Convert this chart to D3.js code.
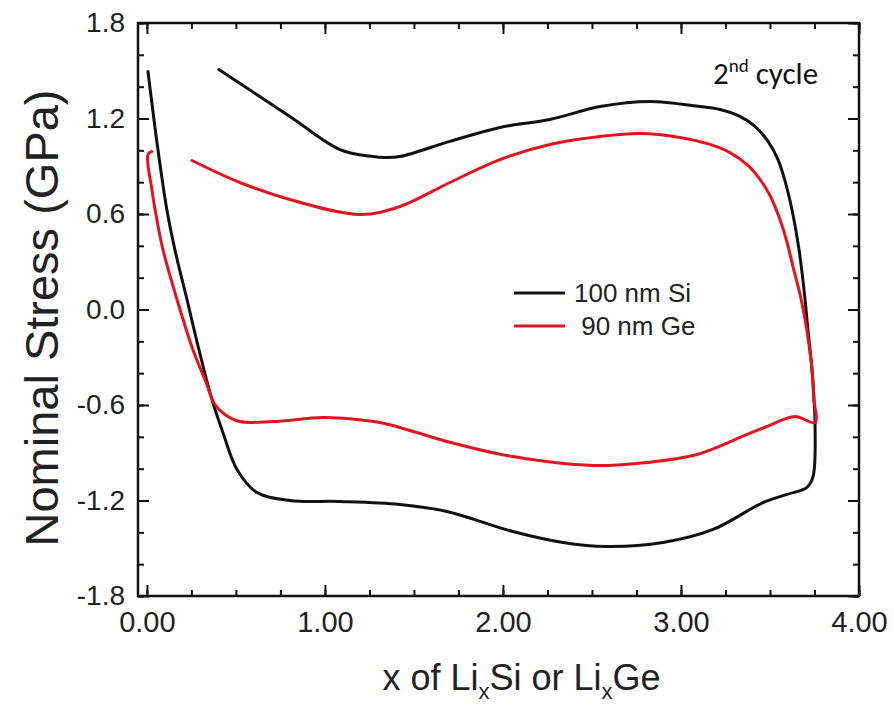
<!DOCTYPE html>
<html>
<head>
<meta charset="utf-8">
<script src="https://cdn.jsdelivr.net/npm/d3@7"></script>
<style>
  html, body { margin: 0; padding: 0; background: #fff; }
  svg { display: block; }
</style>
</head>
<body>
<svg id="chart" width="894" height="714"></svg>
<script>
// Stress vs. lithium content, second cycle: thin-film Si and Ge electrodes.
const siX = [0.006, 0.062, 0.112, 0.157, 0.225, 0.292, 0.365, 0.427, 0.506, 0.618, 0.803, 1.084, 1.421, 1.685, 2.056, 2.337, 2.584, 2.899, 3.180, 3.461, 3.596, 3.708, 3.742, 3.753, 3.747, 3.736, 3.713, 3.691, 3.663, 3.629, 3.590, 3.545, 3.489, 3.416, 3.331, 3.219, 3.107, 2.826, 2.545, 2.264, 1.983, 1.702, 1.421, 1.337, 1.270, 1.084, 0.803, 0.404];
const siY = [1.495, 1.005, 0.628, 0.377, 0.063, -0.251, -0.565, -0.773, -1.005, -1.150, -1.200, -1.206, -1.225, -1.269, -1.395, -1.464, -1.489, -1.464, -1.382, -1.213, -1.162, -1.118, -1.049, -0.710, -0.565, -0.377, -0.126, 0.126, 0.377, 0.597, 0.785, 0.942, 1.056, 1.150, 1.213, 1.257, 1.275, 1.307, 1.275, 1.194, 1.144, 1.056, 0.961, 0.955, 0.961, 1.005, 1.213, 1.508];

const geX = [0.028, 0.006, 0.028, 0.056, 0.090, 0.169, 0.258, 0.326, 0.382, 0.438, 0.522, 0.708, 0.989, 1.180, 1.309, 1.421, 1.685, 2.056, 2.506, 2.809, 3.090, 3.371, 3.483, 3.640, 3.753, 3.747, 3.736, 3.719, 3.697, 3.669, 3.629, 3.596, 3.556, 3.500, 3.444, 3.376, 3.275, 3.163, 2.994, 2.770, 2.545, 2.264, 1.983, 1.702, 1.421, 1.197, 0.803, 0.522, 0.253];
const geY = [0.993, 0.974, 0.754, 0.565, 0.377, 0.063, -0.251, -0.440, -0.597, -0.660, -0.704, -0.704, -0.679, -0.691, -0.710, -0.741, -0.829, -0.924, -0.980, -0.961, -0.911, -0.785, -0.735, -0.672, -0.710, -0.565, -0.377, -0.220, -0.063, 0.094, 0.270, 0.421, 0.565, 0.716, 0.817, 0.905, 0.986, 1.037, 1.081, 1.106, 1.087, 1.037, 0.942, 0.798, 0.647, 0.597, 0.691, 0.798, 0.936];

const seriesNames = ["100 nm Si", " 90 nm Ge"];
const seriesColors = ["#111111", "#e3141f"];

const xMajor = [0, 1, 2, 3, 4];
const xMajorLabels = ["0.00", "1.00", "2.00", "3.00", "4.00"];
const xMinor = d3.range(0, 16.5, 1).map(i => i * 0.25);
const yMajor = [-1.8, -1.2, -0.6, 0, 0.6, 1.2, 1.8];
const yMajorLabels = ["-1.8", "-1.2", "-0.6", "0.0", "0.6", "1.2", "1.8"];
const yMinor = d3.range(-9, 10, 1).map(i => i * 0.2);

const svg = d3.select("#chart");
const plotL = 138, plotR = 859, plotT = 23, plotB = 596;

const x = d3.scaleLinear().domain([-0.05, 4.0]).range([plotL, plotR]);
const y = d3.scaleLinear().domain([-1.8, 1.8]).range([plotB, plotT]);

const font = "'Liberation Sans', Arial, Helvetica, sans-serif";

// Curves
const line = d3.line()
  .x(d => x(d[0]))
  .y(d => y(d[1]))
  .curve(d3.curveCatmullRom.alpha(0.5));

const series = [
  d3.zip(siX, siY),
  d3.zip(geX, geY)
];

svg.append("g").selectAll("path")
  .data(series)
  .join("path")
  .attr("d", line)
  .attr("fill", "none")
  .attr("stroke", (d, i) => seriesColors[i])
  .attr("stroke-width", 3)
  .attr("stroke-linejoin", "round")
  .attr("stroke-linecap", "round");

// Axes with inward ticks on all four sides
function styleAxis(g) {
  g.select(".domain").remove();
  g.selectAll(".tick line").attr("stroke", "#111").attr("stroke-width", 2);
  g.selectAll(".tick text")
    .attr("fill", "#222")
    .style("font-family", font);
}

const fmtX = v => xMajorLabels[xMajor.indexOf(v)];
const fmtY = v => yMajorLabels[yMajor.findIndex(t => Math.abs(t - v) < 1e-9)];

svg.append("g").attr("transform", `translate(0,${plotB})`)
  .call(d3.axisBottom(x).tickValues(xMinor).tickSize(-6).tickFormat(""))
  .call(styleAxis);
svg.append("g").attr("transform", `translate(0,${plotB})`)
  .call(d3.axisBottom(x).tickValues(xMajor).tickSize(-11).tickPadding(15).tickFormat(fmtX))
  .call(styleAxis)
  .call(g => g.selectAll(".tick text").style("font-size", "29px"));

svg.append("g").attr("transform", `translate(0,${plotT})`)
  .call(d3.axisTop(x).tickValues(xMinor).tickSize(-6).tickFormat(""))
  .call(styleAxis);
svg.append("g").attr("transform", `translate(0,${plotT})`)
  .call(d3.axisTop(x).tickValues(xMajor).tickSize(-11).tickFormat(""))
  .call(styleAxis);

svg.append("g").attr("transform", `translate(${plotL},0)`)
  .call(d3.axisLeft(y).tickValues(yMinor).tickSize(-6).tickFormat(""))
  .call(styleAxis);
svg.append("g").attr("transform", `translate(${plotL},0)`)
  .call(d3.axisLeft(y).tickValues(yMajor).tickSize(-11).tickPadding(13).tickFormat(fmtY))
  .call(styleAxis)
  .call(g => g.selectAll(".tick text").style("font-size", "28px"));

svg.append("g").attr("transform", `translate(${plotR},0)`)
  .call(d3.axisRight(y).tickValues(yMinor).tickSize(-6).tickFormat(""))
  .call(styleAxis);
svg.append("g").attr("transform", `translate(${plotR},0)`)
  .call(d3.axisRight(y).tickValues(yMajor).tickSize(-11).tickFormat(""))
  .call(styleAxis);

// Frame
svg.append("rect")
  .attr("x", plotL).attr("y", plotT)
  .attr("width", plotR - plotL).attr("height", plotB - plotT)
  .attr("fill", "none").attr("stroke", "#111").attr("stroke-width", 2.5);

// Axis titles
const xt = svg.append("text")
  .attr("x", (plotL + plotR) / 2 + 23).attr("y", 690)
  .attr("text-anchor", "middle")
  .style("font-family", font).style("font-size", "36px").attr("fill", "#222");
xt.append("tspan").text("x of Li");
xt.append("tspan").text("x").attr("dy", 9).style("font-size", "22px");
xt.append("tspan").text("Si or Li").attr("dy", -9);
xt.append("tspan").text("x").attr("dy", 9).style("font-size", "22px");
xt.append("tspan").text("Ge").attr("dy", -9);

svg.append("text")
  .attr("transform", "translate(58,318) rotate(-90)")
  .attr("text-anchor", "middle")
  .style("font-family", font).style("font-size", "47px").attr("fill", "#222")
  .text("Nominal Stress (GPa)");

// Legend
const legend = svg.append("g");
seriesNames.forEach((name, i) => {
  const ly = 293 + i * 33;
  legend.append("line")
    .attr("x1", 514).attr("x2", 565).attr("y1", ly).attr("y2", ly)
    .attr("stroke", seriesColors[i]).attr("stroke-width", 3);
  legend.append("text")
    .attr("x", 574).attr("y", ly + 9)
    .style("font-family", font).style("font-size", "26px").attr("fill", "#222")
    .attr("xml:space", "preserve")
    .text(name);
});

// Cycle annotation
const ct = svg.append("text")
  .attr("x", 713).attr("y", 84)
  .style("font-family", "Carlito, 'Open Sans', 'Noto Sans', sans-serif")
  .style("font-size", "31px").attr("fill", "#111");
ct.append("tspan").text("2");
ct.append("tspan").text("nd").attr("dy", -12).style("font-size", "19px");
ct.append("tspan").text(" cycle").attr("dy", 12);
</script>
</body>
</html>
